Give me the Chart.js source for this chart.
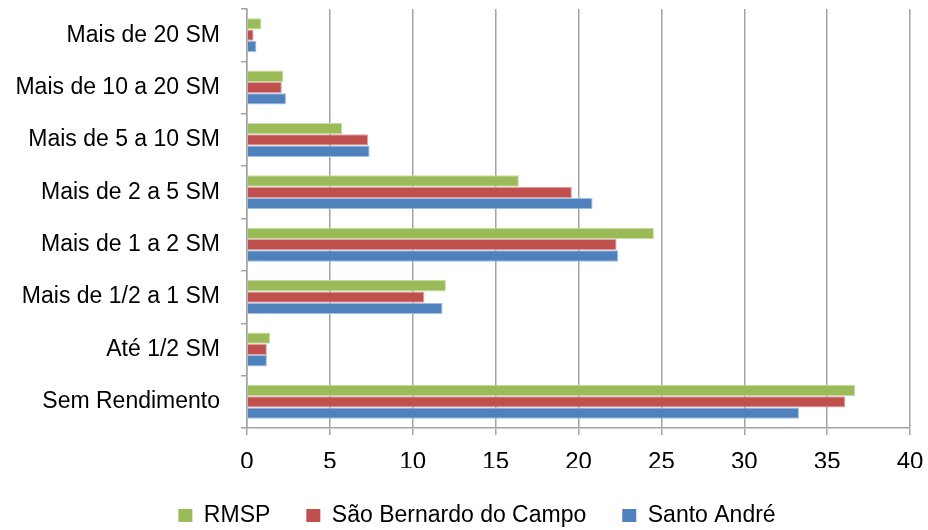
<!DOCTYPE html>
<html>
<head>
<meta charset="utf-8">
<script src="https://cdn.jsdelivr.net/npm/chart.js@4/dist/chart.umd.min.js"></script>
<style>
  html, body { margin: 0; padding: 0; background: #fff; }
  #wrap { width: 928px; height: 530px; }
</style>
</head>
<body>
<div id="wrap"><canvas id="c" width="928" height="530"></canvas></div>
<script>
// Faixas de rendimento (salários mínimos), de cima para baixo
const categories = [
  'Mais de 20 SM',
  'Mais de 10 a 20 SM',
  'Mais de 5 a 10 SM',
  'Mais de 2 a 5 SM',
  'Mais de 1 a 2 SM',
  'Mais de 1/2 a 1 SM',
  'Até 1/2 SM',
  'Sem Rendimento'
];

// Percentual de pessoas por faixa
const rmsp        = [0.87, 2.2, 5.75, 16.4, 24.55, 12.0, 1.4, 36.7];
const saoBernardo = [0.4, 2.1, 7.3, 19.6, 22.3, 10.7, 1.2, 36.1];
const santoAndre  = [0.57, 2.35, 7.4, 20.85, 22.4, 11.8, 1.2, 33.3];

const xTicks = [0, 5, 10, 15, 20, 25, 30, 35, 40];

const FONT = "'Liberation Sans', Arial, sans-serif";
const gridGray = '#a3a3a3';

// Legend block: fixed height (wide item gaps) and centred under the plot area
const legendLayout = {
  id: 'legendLayout',
  afterInit(chart) {
    const lg = chart.legend;
    if (!lg) return;
    const fit = lg.fit.bind(lg);
    lg.fit = function () { fit(); this.height = 62; };
    const draw = lg.draw.bind(lg);
    lg.draw = function () {
      const ctx = this.ctx;
      ctx.save();
      ctx.translate(17, 0);
      draw();
      ctx.restore();
    };
  }
};

new Chart(document.getElementById('c'), {
  type: 'bar',
  plugins: [legendLayout],
  data: {
    labels: categories,
    datasets: [
      { label: 'RMSP', data: rmsp, backgroundColor: '#9BBB59', borderColor: '#c6dca3', borderWidth: 1 },
      { label: 'São Bernardo do Campo', data: saoBernardo, backgroundColor: '#C0504D', borderColor: '#dfa7a6', borderWidth: 1 },
      { label: 'Santo André', data: santoAndre, backgroundColor: '#4F81BD', borderColor: '#a4c0e2', borderWidth: 1 }
    ]
  },
  options: {
    indexAxis: 'y',
    responsive: false,
    animation: false,
    layout: { padding: { top: 9, right: 18, left: 10, bottom: 0 } },
    datasets: { bar: { categoryPercentage: 0.65, barPercentage: 1.0 } },
    plugins: {
      tooltip: { enabled: false },
      legend: {
        position: 'bottom',
        labels: {
          font: { family: FONT, size: 23 },
          color: '#000',
          boxWidth: 14,
          boxHeight: 13,
          padding: 36,
          generateLabels(chart) {
            return chart.data.datasets.map((ds, i) => ({
              text: ds.label,
              fillStyle: ds.backgroundColor,
              strokeStyle: ds.backgroundColor,
              lineWidth: 0,
              datasetIndex: i,
              hidden: false
            }));
          }
        }
      }
    },
    scales: {
      x: {
        type: 'linear',
        min: 0,
        max: 40,
        afterBuildTicks(axis) { axis.ticks = xTicks.map(v => ({ value: v })); },
        afterFit(axis) {
          axis.height = 40;
          axis.paddingLeft = 0;
          axis.paddingRight = 0;
        },
        ticks: {
          font: { family: FONT, size: 24 },
          color: '#000',
          padding: 13,
          maxRotation: 0
        },
        grid: {
          color: gridGray,
          lineWidth: 1.5,
          drawTicks: true,
          tickLength: 7
        },
        border: { display: true, color: gridGray, width: 1.5 }
      },
      y: {
        type: 'category',
        afterFit(axis) {
          axis.width = 237;
          axis.paddingTop = 0;
          axis.paddingBottom = 0;
        },
        ticks: {
          font: { family: FONT, size: 23 },
          color: '#000',
          padding: 21
        },
        grid: {
          display: true,
          drawOnChartArea: false,
          drawTicks: true,
          tickLength: 6,
          offset: true,
          color: gridGray,
          lineWidth: 1.5
        },
        border: { display: true, color: gridGray, width: 1.5 }
      }
    }
  }
});
</script>
</body>
</html>
